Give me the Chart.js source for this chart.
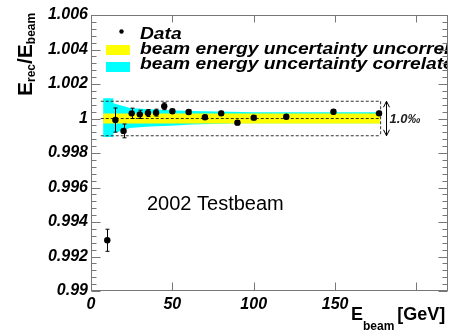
<!DOCTYPE html>
<html>
<head>
<meta charset="utf-8">
<script src="https://cdn.jsdelivr.net/npm/chart.js@4.4.0/dist/chart.umd.min.js"></script>
<style>
html, body { margin: 0; padding: 0; background: #fff; }
#wrap { width: 452px; height: 333px; }
</style>
</head>
<body>
<div id="wrap"><canvas id="grafic" width="452" height="333"></canvas></div>
<script>
// Data points (beam energy in GeV, E_rec/E_beam, error)
const energy = [10, 15, 20, 25, 30, 35, 40, 45, 50, 60, 70, 80, 90, 100, 120, 149, 177];
const ratio = [0.99294, 0.99991, 0.99928, 1.0003, 1.00024, 1.00032, 1.00034, 1.00071, 1.00042,
               1.00038, 1.00007, 1.0003, 0.99976, 1.00005, 1.0001, 1.00039, 1.0003];
const ratioErr = [0.00064, 0.0007, 0.0004, 0.0003, 0.00024, 0.0002, 0.0002, 0.0002, 0.00012,
                  0.00012, 0.00012, 0.00012, 0.00012, 0.00012, 0.00012, 0.00012, 0.00012];

// Correlated beam energy uncertainty band (cyan)
const corrUpX = [7.5, 13.7, 13.7, 24, 36, 49, 62, 100, 177.7];
const corrUp = [1.00117, 1.00117, 1.00088, 1.00061, 1.00053, 1.00048, 1.00043, 1.00036, 1.00036];
const corrLowX = [7.5, 13.7, 13.7, 24, 36, 49, 62, 90, 177.7];
const corrLow = [0.99893, 0.99893, 0.99914, 0.99945, 0.99953, 0.99958, 0.99965, 0.99972, 0.99972];

// Uncorrelated band (yellow)
const uncX = [7.5, 177.7];
const uncUp = [1.00029, 1.00029];
const uncLow = [0.99971, 0.99971];

// Dashed 1.0 permille box
const boxX = [6, 178];
const boxTop = 1.001, boxMid = 1.0, boxBottom = 0.999;

// Axes
const xMin = 0, xMax = 219.4, xStep = 50;
const yMin = 0.99, yMax = 1.006, yStep = 0.002, yMinor = 0.0004;

const legendItems = ['Data', 'beam energy uncertainty uncorrelated', 'beam energy uncertainty correlated'];

function pts(xs, ys) { return xs.map((x, i) => ({ x: x, y: ys[i] })); }
// closed outline: upper edge left->right, lower edge right->left
function band(ux, uy, lx, ly) { return pts(ux, uy).concat(pts(lx, ly).reverse()); }

const lineDs = (data, extra) => Object.assign({
    data: data, borderWidth: 0, pointRadius: 0, fill: false, tension: 0
}, extra);
const dashDs = data => lineDs(data, { borderWidth: 1, borderColor: '#333', borderDash: [3, 2], order: 4 });

const FONT = '"Liberation Sans", Arial, sans-serif';

// Drawing of frame, ticks, error bars, legend and labels
const decor = {
    id: 'decor',
    afterDatasetsDraw(chart) {
        const ctx = chart.ctx, xs = chart.scales.x, ys = chart.scales.y;
        const a = chart.chartArea;
        ctx.save();
        // error bars
        ctx.strokeStyle = '#000';
        ctx.lineWidth = 1;
        energy.forEach((e, i) => {
            const px = Math.round(xs.getPixelForValue(e)) + 0.5;
            const y1 = ys.getPixelForValue(ratio[i] + ratioErr[i]);
            const y2 = ys.getPixelForValue(ratio[i] - ratioErr[i]);
            ctx.beginPath();
            ctx.moveTo(px, y1); ctx.lineTo(px, y2);
            ctx.moveTo(px - 2, y1); ctx.lineTo(px + 2, y1);
            ctx.moveTo(px - 2, y2); ctx.lineTo(px + 2, y2);
            ctx.stroke();
        });

        // arrow for 1.0 permille
        const ax = Math.round(xs.getPixelForValue(181.5)) + 0.5;
        const at = ys.getPixelForValue(boxTop), ab = ys.getPixelForValue(boxBottom);
        ctx.beginPath();
        ctx.moveTo(ax, at); ctx.lineTo(ax, ab);
        ctx.moveTo(ax - 3, at + 6); ctx.lineTo(ax, at); ctx.lineTo(ax + 3, at + 6);
        ctx.moveTo(ax - 3, ab - 6); ctx.lineTo(ax, ab); ctx.lineTo(ax + 3, ab - 6);
        ctx.stroke();
        ctx.fillStyle = '#222';
        ctx.font = 'italic bold 13px ' + FONT;
        ctx.textBaseline = 'middle';
        ctx.fillText('1.0\u2030', ax + 3, ys.getPixelForValue(boxMid) + 1);

        // legend, clipped to the frame
        ctx.save();
        ctx.beginPath();
        ctx.rect(a.left, a.top, a.right - a.left, a.bottom - a.top);
        ctx.clip();
        ctx.fillStyle = '#000';
        ctx.beginPath();
        ctx.arc(121.5, 31.5, 2.2, 0, Math.PI * 2);
        ctx.fill();
        ctx.fillStyle = '#ffff00';
        ctx.fillRect(106, 45, 24, 10);
        ctx.fillStyle = '#00ffff';
        ctx.fillRect(106, 62, 24, 10);
        ctx.fillStyle = '#000';
        ctx.font = 'italic bold 16px ' + FONT;
        ctx.textBaseline = 'alphabetic';
        [39, 54, 69].forEach((by, i) => {
            ctx.save();
            ctx.translate(140, by);
            ctx.scale(1.2, 1);
            ctx.fillText(legendItems[i], 0, 0);
            ctx.restore();
        });
        ctx.restore();

        // 2002 Testbeam
        ctx.fillStyle = '#000';
        ctx.font = '20px ' + FONT;
        ctx.fillText('2002 Testbeam', 147, 204.5);
        ctx.restore();
    },
    afterDraw(chart) {
        const ctx = chart.ctx, xs = chart.scales.x, ys = chart.scales.y;
        const a = chart.chartArea;
        const L = Math.round(a.left) + 0.5, R = Math.round(a.right) - 0.5;
        const T = Math.round(a.top) + 0.5, B = Math.round(a.bottom) - 0.5;
        ctx.save();
        ctx.strokeStyle = '#777';
        ctx.lineWidth = 1;
        ctx.strokeRect(L, T, R - L, B - T);
        ctx.beginPath();
        const n = Math.round((yMax - yMin) / yMinor);
        for (let i = 0; i <= n; i++) {
            const py = Math.round(ys.getPixelForValue(yMin + i * yMinor)) + 0.5;
            const len = (i % 5 === 0) ? 9 : 5;
            ctx.moveTo(L, py); ctx.lineTo(L + len, py);
            ctx.moveTo(R, py); ctx.lineTo(R - len, py);
        }
        for (let v = xMin; v <= xMax; v += xStep) {
            const px = Math.round(xs.getPixelForValue(v)) + 0.5;
            ctx.moveTo(px, B); ctx.lineTo(px, B - 8);
            ctx.moveTo(px, T); ctx.lineTo(px, T + 7);
        }
        ctx.stroke();

        // axis titles
        ctx.fillStyle = '#000';
        ctx.textBaseline = 'alphabetic';
        let x = 351;
        ctx.font = 'bold 18px ' + FONT;
        ctx.fillText('E', x, 320);
        x += ctx.measureText('E').width;
        ctx.font = 'bold 12px ' + FONT;
        ctx.fillText('beam', x, 330);
        x += ctx.measureText('beam').width + 3;
        ctx.font = 'bold 18px ' + FONT;
        ctx.fillText('[GeV]', x, 320);

        ctx.translate(32, 96);
        ctx.rotate(-Math.PI / 2);
        let t = 0;
        [['E', 21, 0], ['rec', 12, 3], ['/E', 21, 0], ['beam', 12, 3]].forEach(p => {
            ctx.font = 'bold ' + p[1] + 'px ' + FONT;
            ctx.fillText(p[0], t, p[2]);
            t += ctx.measureText(p[0]).width;
        });
        ctx.restore();
    }
};

new Chart(document.getElementById('grafic').getContext('2d'), {
    type: 'line',
    data: {
        datasets: [
            lineDs(band(corrUpX, corrUp, corrLowX, corrLow), { fill: 'shape', backgroundColor: '#00ffff', order: 6 }),
            lineDs(band(uncX, uncUp, uncX, uncLow), { fill: 'shape', backgroundColor: '#ffff00', order: 5 }),
            dashDs(pts(boxX, [boxTop, boxTop])),
            dashDs(pts(boxX, [boxBottom, boxBottom])),
            dashDs(pts(boxX, [boxMid, boxMid])),
            dashDs(pts([boxX[1], boxX[1]], [boxTop, boxBottom])),
            {
                data: pts(energy, ratio), showLine: false, pointRadius: 3.2,
                pointBackgroundColor: '#000', pointBorderWidth: 0, order: 0
            }
        ]
    },
    options: {
        responsive: false,
        animation: false,
        events: [],
        layout: { padding: { left: 0, right: 3, top: 15, bottom: 0 } },
        plugins: { legend: { display: false }, tooltip: { enabled: false } },
        scales: {
            x: {
                type: 'linear', min: xMin, max: xMax,
                grid: { display: false, drawTicks: false },
                border: { display: false },
                afterBuildTicks: s => { s.ticks = s.ticks.filter(t => t.value % xStep === 0); },
                afterFit: s => { s.height = 42; },
                ticks: {
                    stepSize: xStep, padding: 4, color: '#000', maxRotation: 0,
                    font: { family: FONT, size: 16, weight: 'bold', style: 'italic' }
                }
            },
            y: {
                type: 'linear', min: yMin, max: yMax,
                grid: { display: false, drawTicks: false },
                border: { display: false },
                afterFit: s => { s.width = 91; },
                ticks: {
                    stepSize: yStep, padding: 3, color: '#000',
                    font: { family: FONT, size: 16, weight: 'bold', style: 'italic' },
                    callback: v => String(Number(v.toFixed(4)))
                }
            }
        }
    },
    plugins: [decor]
});
</script>
</body>
</html>
